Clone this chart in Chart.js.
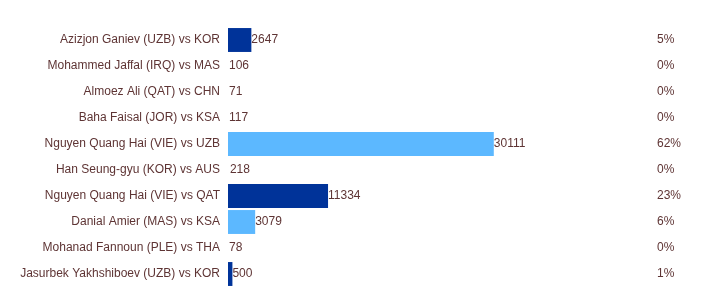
<!DOCTYPE html>
<html>
<head>
<meta charset="utf-8">
<script src="https://cdn.jsdelivr.net/npm/chart.js@4.4.1/dist/chart.umd.min.js"></script>
<style>
  html, body { margin: 0; padding: 0; background: #fff; }
  #wrap { width: 704px; height: 308px; }
</style>
</head>
<body>
<div id="wrap"><canvas id="chartGoals"></canvas></div>
<script>
const players = [
  "Azizjon Ganiev (UZB) vs KOR",
  "Mohammed Jaffal (IRQ) vs MAS",
  "Almoez Ali (QAT) vs CHN",
  "Baha Faisal (JOR) vs KSA",
  "Nguyen Quang Hai (VIE) vs UZB",
  "Han Seung-gyu (KOR) vs AUS",
  "Nguyen Quang Hai (VIE) vs QAT",
  "Danial Amier (MAS) vs KSA",
  "Mohanad Fannoun (PLE) vs THA",
  "Jasurbek Yakhshiboev (UZB) vs KOR"
];
const votes = [2647, 106, 71, 117, 30111, 218, 11334, 3079, 78, 500];

const DARK = "#003399";
const LIGHT = "#5cb8ff";
const TEXT = "#5e3434";
const barColors = [DARK, LIGHT, DARK, LIGHT, LIGHT, DARK, DARK, LIGHT, DARK, DARK];

const total = votes.reduce((a, b) => a + b, 0);

// values at bar end + percentage column on the right
const labelPlugin = {
  id: "valueLabels",
  afterDatasetsDraw(chart) {
    const ctx = chart.ctx;
    const meta = chart.getDatasetMeta(0);
    ctx.save();
    ctx.font = "12px 'Liberation Sans', Arial, sans-serif";
    ctx.fillStyle = TEXT;
    ctx.textBaseline = "middle";
    ctx.textAlign = "left";
    meta.data.forEach((bar, i) => {
      ctx.fillText(String(votes[i]), Math.max(bar.x, chart.chartArea.left + 1), bar.y);
      ctx.fillText(Math.round(votes[i] / total * 100) + "%", chart.chartArea.right + 3, bar.y);
    });
    ctx.restore();
  }
};

const ctx = document.getElementById("chartGoals").getContext("2d");
const myChart = new Chart(ctx, {
  type: "bar",
  data: {
    labels: players,
    datasets: [{
      data: votes,
      // bars thinner than ~2px are not drawn in the original
      backgroundColor: (c) => {
        const area = c.chart.chartArea;
        if (!area) return barColors[c.dataIndex];
        const w = votes[c.dataIndex] / total * (area.right - area.left);
        return w < 2 ? "rgba(0,0,0,0)" : barColors[c.dataIndex];
      },
      borderWidth: 0,
      barPercentage: 0.92,
      categoryPercentage: 1
    }]
  },
  options: {
    indexAxis: "y",
    responsive: true,
    maintainAspectRatio: false,
    animation: false,
    layout: { padding: { top: 27, bottom: 21, left: 0, right: 50 } },
    scales: {
      x: { display: false, min: 0, max: total },
      y: {
        grid: { display: false, drawTicks: false },
        border: { display: false },
        afterFit(axis) { axis.width = 228; },
        ticks: {
          color: TEXT,
          padding: 8,
          font: { family: "'Liberation Sans', Arial, sans-serif", size: 12 }
        }
      }
    },
    plugins: {
      legend: { display: false },
      tooltip: { enabled: false }
    }
  },
  plugins: [labelPlugin]
});
</script>
</body>
</html>
